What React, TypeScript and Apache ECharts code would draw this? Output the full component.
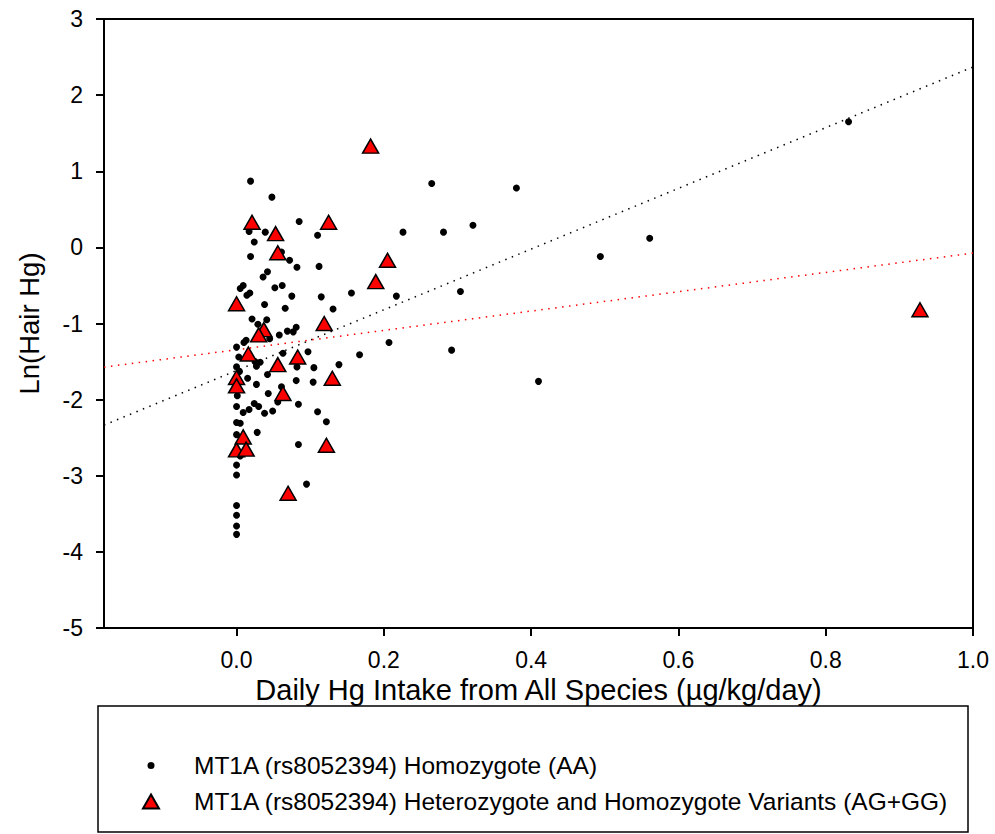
import React, { useEffect, useRef } from "react";
import * as echarts from "echarts";

// MT1A (rs8052394) Homozygote (AA): [daily Hg intake, ln(hair Hg)]
const homozygoteAA: [number, number][] = [
  [0.019, 0.87], [0.048, 0.66], [0.831, 1.65], [0.265, 0.84], [0.38, 0.78],
  [0.085, 0.34], [0.321, 0.29], [0.226, 0.2], [0.281, 0.2], [0.11, 0.16],
  [0.561, 0.12], [0.494, -0.12], [0.017, 0.21], [0.039, 0.2], [0.024, 0.07],
  [0.061, -0.06], [0.019, -0.12], [0.072, -0.17], [0.082, -0.26], [0.112, -0.25],
  [0.042, -0.32], [0.036, -0.39], [0.009, -0.5], [0.005, -0.54], [0.018, -0.6],
  [0.014, -0.63], [0.052, -0.53], [0.062, -0.5], [0.075, -0.64], [0.115, -0.65],
  [0.156, -0.6], [0.217, -0.64], [0.304, -0.58], [0.038, -0.75], [0.066, -0.8],
  [0.131, -0.81], [0.021, -0.94], [0.041, -0.95], [0.029, -1.01], [0.081, -1.05],
  [0.077, -1.11], [0.069, -1.1], [0.058, -1.15], [0.045, -1.2], [0.013, -1.22],
  [0.01, -1.25], [0.207, -1.25], [0.0, -1.31], [0.063, -1.39], [0.097, -1.37],
  [0.167, -1.41], [0.292, -1.35], [0.003, -1.44], [0.025, -1.5], [0.032, -1.51],
  [0.027, -1.56], [0.0, -1.57], [0.082, -1.57], [0.105, -1.58], [0.139, -1.54],
  [0.004, -1.63], [0.042, -1.67], [0.015, -1.72], [0.081, -1.75], [0.104, -1.77],
  [0.41, -1.76], [0.027, -1.8], [0.061, -1.83], [0.043, -1.92], [0.001, -1.95],
  [0.056, -2.03], [0.084, -2.06], [0.024, -2.05], [0.03, -2.09], [0.0, -2.09],
  [0.017, -2.13], [0.009, -2.17], [0.038, -2.18], [0.049, -2.15], [0.11, -2.16],
  [0.122, -2.29], [0.0, -2.3], [0.005, -2.31], [0.0, -2.46], [0.028, -2.43],
  [0.084, -2.59], [0.005, -2.74], [0.0, -2.86], [0.0, -2.99], [0.095, -3.11],
  [0.0, -3.39], [0.0, -3.52], [0.0, -3.66], [0.0, -3.77],
];

// MT1A (rs8052394) Heterozygote and Homozygote Variants (AG+GG)
const variantsAGGG: [number, number][] = [
  [0.182, 1.33], [0.021, 0.33], [0.053, 0.18], [0.125, 0.33], [0.056, -0.07],
  [0.205, -0.17], [0.189, -0.45], [0.0, -0.74], [0.119, -1.0], [0.037, -1.08],
  [0.03, -1.15], [0.016, -1.4], [0.083, -1.44], [0.056, -1.54], [0.0, -1.71],
  [0.13, -1.72], [0.0, -1.82], [0.063, -1.92], [0.009, -2.49], [0.0, -2.66],
  [0.013, -2.65], [0.122, -2.6], [0.07, -3.23], [0.928, -0.82],
];

// Regression line end points (plot edges)
const fitAA: [number, number][] = [[-0.18, -2.335], [1.0, 2.37]];
const fitAGGG: [number, number][] = [[-0.18, -1.573], [1.0, -0.075]];

const xTickValues = [0, 0.2, 0.4, 0.6, 0.8, 1.0];
const nameAA = "MT1A (rs8052394) Homozygote (AA)";
const nameAGGG = "MT1A (rs8052394) Heterozygote and Homozygote Variants (AG+GG)";

const FONT = "'Liberation Sans', Arial, sans-serif";

export default function App() {
  const ref = useRef<HTMLDivElement>(null);
  useEffect(() => {
    if (!ref.current) return;
    const chart = echarts.init(ref.current, undefined, { renderer: "svg" });
    chart.setOption({
      animation: false,
      backgroundColor: "#fff",
      textStyle: { fontFamily: FONT },
      grid: {
        left: 104,
        top: 19,
        width: 869,
        height: 609,
        show: true,
        borderColor: "#000",
        borderWidth: 2,
      },
      xAxis: {
        type: "value",
        min: -0.18,
        max: 1.0,
        name: "Daily Hg Intake from All Species (µg/kg/day)",
        nameLocation: "middle",
        nameGap: 45,
        nameTextStyle: { fontSize: 29, color: "#000", fontFamily: FONT },
        axisLine: { show: true, onZero: false, lineStyle: { color: "#000", width: 2 } },
        axisTick: { show: true, length: 8, lineStyle: { color: "#000", width: 2 }, customValues: xTickValues },
        axisLabel: {
          show: true,
          margin: 20,
          fontSize: 23,
          color: "#000",
          fontFamily: FONT,
          customValues: xTickValues,
          formatter: (v: number) => v.toFixed(1),
        },
        splitLine: { show: false },
      },
      yAxis: {
        type: "value",
        min: -5,
        max: 3,
        interval: 1,
        name: "Ln(Hair Hg)",
        nameLocation: "middle",
        nameGap: 61,
        nameTextStyle: { fontSize: 27.5, color: "#000", fontFamily: FONT },
        axisLine: { show: true, onZero: false, lineStyle: { color: "#000", width: 2 } },
        axisTick: { show: true, length: 8, lineStyle: { color: "#000", width: 2 } },
        axisLabel: { margin: 21, fontSize: 23, color: "#000", fontFamily: FONT },
        splitLine: { show: false },
      },
      legend: {
        orient: "vertical",
        left: 142,
        top: 753,
        padding: 0,
        itemGap: 11,
        itemWidth: 76,
        itemHeight: 14,
        symbolKeepAspect: true,
        textStyle: { fontSize: 24.5, color: "#000", fontFamily: FONT },
        data: [
          { name: nameAA, icon: "path://M0,0L0,0M16,14L16,14M4.5,7A3.5,3.5 0 1,0 11.5,7A3.5,3.5 0 1,0 4.5,7Z" },
          { name: nameAGGG, icon: "path://M8,0L16,14L0,14Z" },
        ],
      },
      graphic: [
        {
          type: "rect",
          shape: { x: 98, y: 706, width: 870, height: 126 },
          style: { fill: "none", stroke: "#000", lineWidth: 1.5 },
          silent: true,
        },
      ],
      series: [
        {
          name: "fitAA",
          type: "line",
          data: fitAA,
          symbol: "none",
          lineStyle: { color: "#000", width: 1.5, type: [1.5, 5.5] },
          z: 1,
          silent: true,
        },
        {
          name: "fitAGGG",
          type: "line",
          data: fitAGGG,
          symbol: "none",
          lineStyle: { color: "#ff0000", width: 1.5, type: [1.5, 5.5] },
          z: 1,
          silent: true,
        },
        {
          name: nameAA,
          type: "scatter",
          data: homozygoteAA,
          symbol: "circle",
          symbolSize: 7,
          itemStyle: { color: "#000", opacity: 1 },
          z: 2,
        },
        {
          name: nameAGGG,
          type: "scatter",
          data: variantsAGGG,
          symbol: "triangle",
          symbolSize: [16, 14],
          itemStyle: { color: "#ff0000", borderColor: "#000", borderWidth: 1.5, opacity: 1 },
          z: 3,
        },
      ],
    });
    return () => chart.dispose();
  }, []);
  return (
    <div
      ref={ref}
      style={{ position: "absolute", left: 0, top: 0, width: 995, height: 834, background: "#fff" }}
    />
  );
}
